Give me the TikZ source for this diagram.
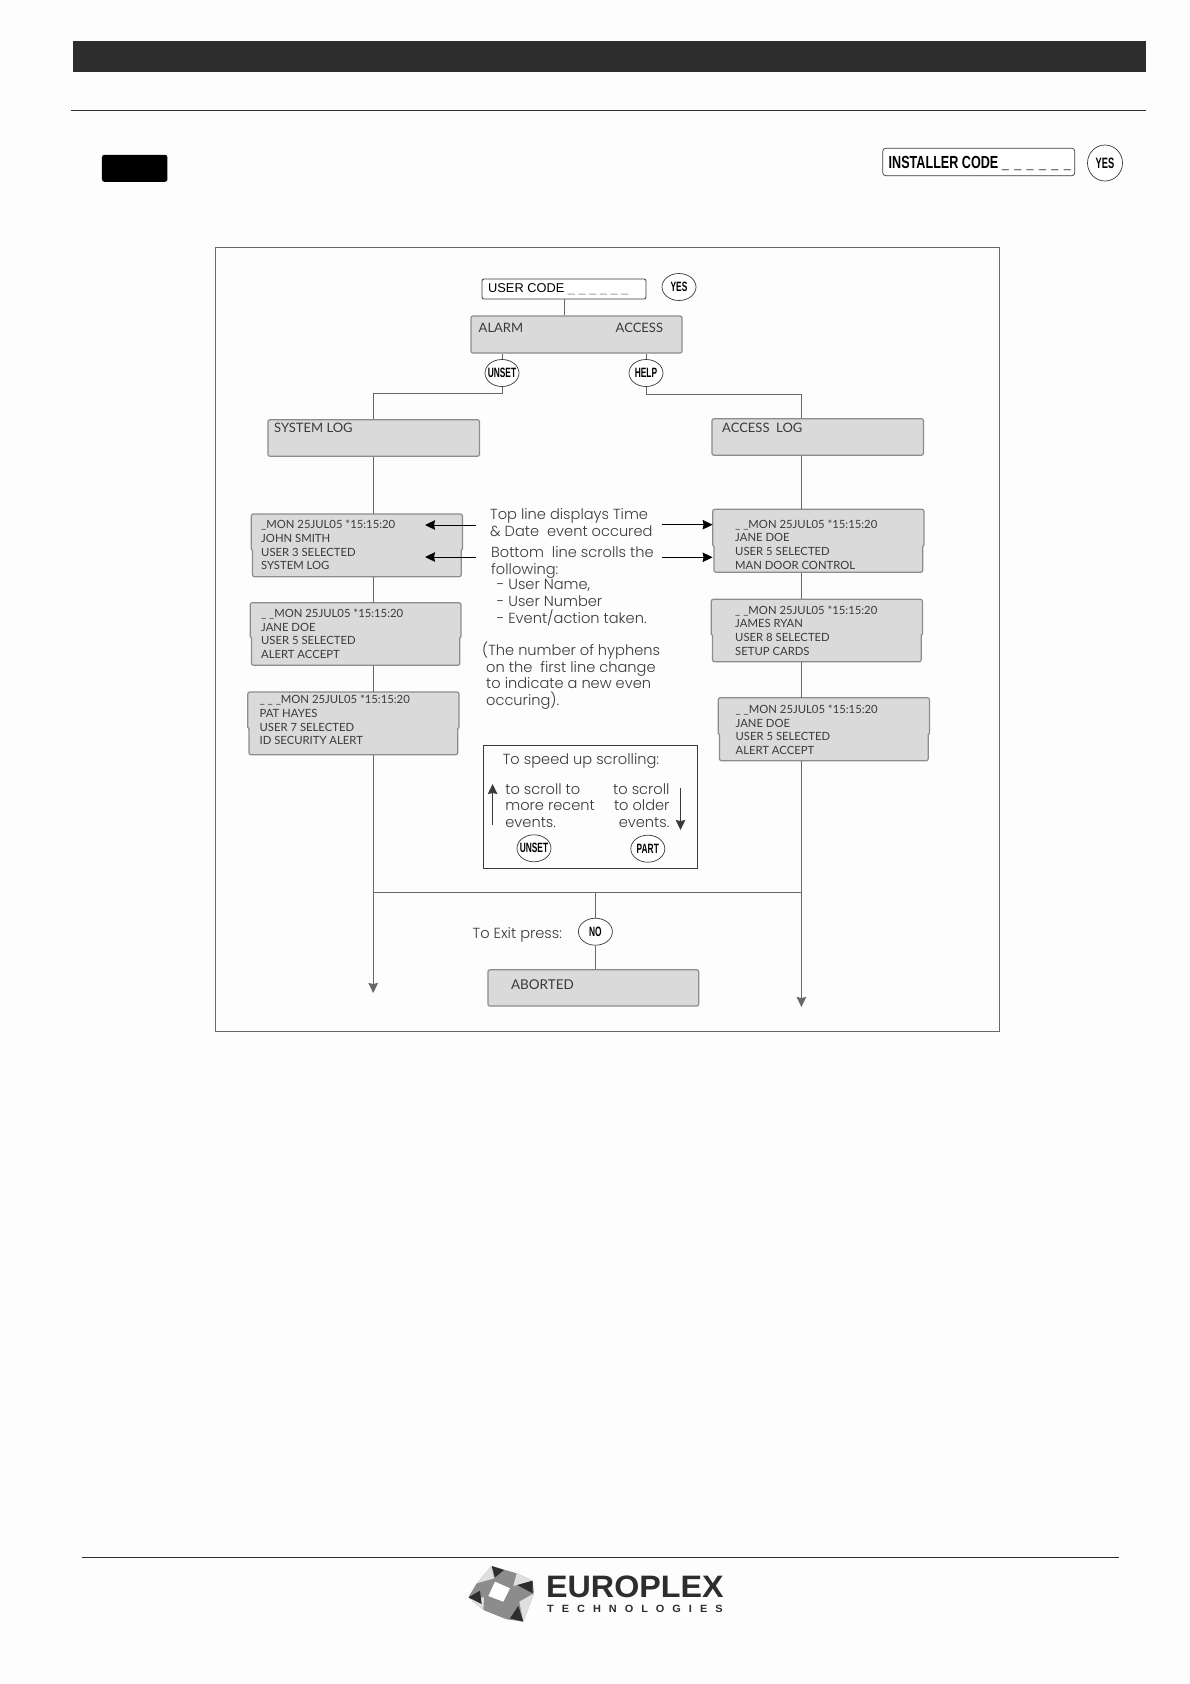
\documentclass[tikz,border=0pt]{standalone}
\usepackage{fontspec}
\setmainfont{Liberation Sans}
\newfontfamily\lcdfont{Lato}
\newfontfamily\notefont{Poppins}[UprightFont=* Light]
\newfontfamily\keyfont[FakeStretch=0.62]{Liberation Sans}
\newfontfamily\codefont[FakeStretch=0.72]{Liberation Sans}
\newfontfamily\logofont[FakeStretch=1.04]{Liberation Sans}
\usetikzlibrary{shapes.geometric,arrows.meta,calc}
\definecolor{pagebg}{HTML}{FDFDFD}
\definecolor{barcol}{HTML}{2D2D2D}
\definecolor{panelcol}{HTML}{DADADA}
\definecolor{edgecol}{HTML}{8C8C8C}
\definecolor{linecol}{HTML}{686868}
\definecolor{inkcol}{HTML}{3A3A3A}
\tikzset{
  >={Stealth[length=10pt,width=9.5pt,inset=1pt]},
  wire/.style={draw=linecol,line width=1pt},
  flow/.style={wire,->},
  pointer/.style={->,black,line width=1pt},
  panel/.style={draw=edgecol,fill=panelcol,line width=1.2pt,rounded corners=2pt,inner sep=0pt},
  keypad/.style={ellipse,draw=inkcol,fill=white,line width=.7pt,inner sep=0pt,minimum width=34pt,minimum height=27pt,font=\keyfont\bfseries\fontsize{13.5}{14}\selectfont,text=black},
  lcd/.style={anchor=west,inner sep=0pt,text=inkcol,font=\lcdfont\fontsize{13}{14}\selectfont,align=left,text height=8pt,text depth=2pt},
  lcdrows/.style={anchor=north west,inner sep=0pt,text=inkcol,font=\lcdfont\fontsize{11.3}{13.7}\selectfont,align=left},
  note/.style={anchor=west,inner sep=0pt,text=inkcol,font=\notefont\fontsize{14.6}{16.6}\selectfont,align=left},
  hidden/.style={inner sep=0pt,minimum size=0pt}
}
% stepped display: name, x1, x2, top, step, bottom, text x, text y, four rows
\newcommand{\logpanel}[9]{
  \path[panel] (#2,#4) -- (#3,#4) [sharp corners] -- (#3,#5) -- ($(#3,#5)+(-1.2,1.5)$) [rounded corners=2pt] -- ($(#3,#6)+(-1.2,0)$) -- ($(#2,#6)+(1.2,0)$) [sharp corners] -- ($(#2,#5)+(1.2,1.5)$) -- (#2,#5) [rounded corners=2pt] -- cycle;
  \node[hidden,minimum width=#3pt-#2pt,minimum height=#6pt-#4pt] (#1) at ($(#2,#4)!.5!(#3,#6)$) {};
  \node[lcdrows] (#1text) at (#7,#8) {#9};
}
\newcommand{\lgap}{\hspace{8pt}}
\newcommand{\dgap}{\hspace{5.4pt}}
\begin{document}
\begin{tikzpicture}[x=1pt,y=-1pt]
\useasboundingbox (0,0) rectangle (1190,1684);
\fill[pagebg] (0,0) rectangle (1190,1684);

% page head
\node[fill=barcol,inner sep=0pt,minimum width=1073.5pt,minimum height=31pt] (headbar) at (609.3,56.5) {};
\coordinate (headruleL) at (71,110.3);
\coordinate (headruleR) at (1146,110.3);
\draw[barcol,line width=1.2pt] (headruleL) -- (headruleR);
\node[fill=black,rounded corners=2.5pt,inner sep=0pt,minimum width=65.5pt,minimum height=27pt] (blackkey) at (134.7,168.3) {};
\node[draw=inkcol,fill=white,rounded corners=3pt,line width=.7pt,inner sep=0pt,minimum width=192pt,minimum height=27.5pt] (installer) at (978.8,162) {};
\node[anchor=west,inner sep=0pt,font=\codefont\bfseries\fontsize{17.5}{18}\selectfont] (installertext) at (888.5,163.5) {INSTALLER CODE \_\dgap\_\dgap\_\dgap\_\dgap\_\dgap\_};
\node[keypad,minimum width=35pt,minimum height=36pt,font=\keyfont\bfseries\fontsize{15}{16}\selectfont] (yeshead) at (1105,163) {YES};

% frame
\node[draw=linecol,fill=pagebg,line width=1pt,inner sep=0pt,minimum width=784pt,minimum height=784pt,anchor=north west] (frame) at (215,247) {};

% top of the chart
\node[draw=inkcol,fill=white,rounded corners=2pt,line width=.8pt,inner sep=0pt,minimum width=164pt,minimum height=20pt] (usercode) at (564,289) {};
\node[anchor=west,inner sep=0pt,font=\fontsize{12.8}{14}\selectfont,text=black] (usercodetext) at (488,289.5) {USER CODE \textcolor{edgecol}{\_ \_ \_ \_ \_ \_}};
\node[keypad] (yeskey) at (679,287) {YES};
\node[panel,minimum width=211pt,minimum height=37pt] (alarm) at (576.5,334.5) {};
\node[lcd] (alarmtext) at (478.5,329) {ALARM};
\node[lcd] (accesstext) at (615.5,329) {ACCESS};
\node[keypad] (unsetkey) at (502,373) {\makebox[0pt]{UNSET}};
\node[keypad] (helpkey) at (646,373) {HELP};
\node[panel,minimum width=211.5pt,minimum height=36.5pt] (syslog) at (373.7,438) {};
\node[lcd] (syslogtext) at (274,429) {SYSTEM LOG};
\node[panel,minimum width=211.5pt,minimum height=36.5pt] (acclog) at (817.7,437) {};
\node[lcd] (acclogtext) at (722,429) {ACCESS\ \ LOG};

% trunks
\coordinate (ltrunk) at (373.2,393.7);
\coordinate (rtrunk) at (801.4,394.3);
\coordinate (mergeL) at (373.2,892.7);
\coordinate (mergeR) at (801.4,892.7);
\coordinate (lend) at (373.2,993);
\coordinate (rend) at (801.4,1007);

% displays
\logpanel{slogA}{251.3}{462.4}{514}{549}{576.7}{261}{519.9}{\_MON 25JUL05 *15:15:20\\JOHN SMITH\\USER 3 SELECTED\\SYSTEM LOG}
\logpanel{slogB}{250.3}{460.9}{602.7}{636.7}{665.3}{260.9}{608.6}{\_ \_MON 25JUL05 *15:15:20\\JANE DOE\\USER 5 SELECTED\\ALERT ACCEPT}
\logpanel{slogC}{247.8}{458.9}{692}{727.3}{754.7}{259.4}{695.1}{\_ \_ \_MON 25JUL05 *15:15:20\\PAT HAYES\\USER 7 SELECTED\\ID SECURITY ALERT}
\logpanel{alogA}{712.8}{923.9}{509.3}{545}{572.3}{735}{519.5}{\_ \_MON 25JUL05 *15:15:20\\JANE DOE\\USER 5 SELECTED\\MAN DOOR CONTROL}
\logpanel{alogB}{711.3}{922.4}{599.3}{634}{661.7}{735}{605.3}{\_ \_MON 25JUL05 *15:15:20\\JAMES RYAN\\USER 8 SELECTED\\SETUP CARDS}
\logpanel{alogC}{718.3}{929.4}{697.7}{733.3}{760.7}{735.4}{704.6}{\_ \_MON 25JUL05 *15:15:20\\JANE DOE\\USER 5 SELECTED\\ALERT ACCEPT}

\draw[wire] (usercode.south) -- (usercode.south |- alarm.north);
\draw[wire] (unsetkey.north |- alarm.south) -- (unsetkey.north);
\draw[wire] (helpkey.north |- alarm.south) -- (helpkey.north);
\draw[wire] (unsetkey.south) |- (ltrunk) -- (ltrunk |- syslog.north);
\draw[wire] (helpkey.south) |- (rtrunk) -- (rtrunk |- acclog.north);
\draw[wire] (ltrunk |- syslog.south) -- (ltrunk |- slogA.north);
\draw[wire] (ltrunk |- slogA.south) -- (ltrunk |- slogB.north);
\draw[wire] (ltrunk |- slogB.south) -- (ltrunk |- slogC.north);
\draw[flow] (ltrunk |- slogC.south) -- (lend);
\draw[wire] (rtrunk |- acclog.south) -- (rtrunk |- alogA.north);
\draw[wire] (rtrunk |- alogA.south) -- (rtrunk |- alogB.north);
\draw[wire] (rtrunk |- alogB.south) -- (rtrunk |- alogC.north);
\draw[flow] (rtrunk |- alogC.south) -- (rend);
\draw[wire] (mergeL) -- (mergeR);

% exit
\node[keypad] (nokey) at (595.4,931.7) {NO};
\node[panel,minimum width=210.7pt,minimum height=36.3pt] (aborted) at (593.3,987.9) {};
\node[lcd,font=\lcdfont\fontsize{13.5}{14}\selectfont] (abortedtext) at (510.8,986.3) {ABORTED};
\node[note] (exitnote) at (472.5,935) {To Exit press:};
\draw[wire] (nokey.north |- mergeL) -- (nokey.north);
\draw[wire] (nokey.south) -- (nokey.south |- aborted.north);

% notes
\node[note] (topnote) at (490,522.5) {Top line displays Time\\\& Date\ \ event occured};
\node[note] (bottomnote) at (491,562.6) {Bottom\ \ line scrolls the\\following:};
\node[note] (listnote) at (496.6,602.7) {- User Name,\\- User Number\\- Event/action taken.};
\node[note] (hyphennote) at (482,675.5) {(The number of hyphens\\\ on the\ \ first line change\\\ to indicate a new even\\\ occuring).};
\coordinate (arrTL) at (476,525);
\coordinate (arrBL) at (476,557);
\coordinate (tipTL) at (425,525);
\coordinate (tipBL) at (425,557);
\coordinate (arrTR) at (662.4,524.7);
\coordinate (arrBR) at (662.4,557.3);
\draw[pointer] (arrTL) -- (tipTL);
\draw[pointer] (arrBL) -- (tipBL);
\draw[pointer] (arrTR) -- (arrTR -| alogA.west);
\draw[pointer] (arrBR) -- (arrBR -| alogA.west);

% speed up box
\node[draw=inkcol,fill=pagebg,line width=1pt,inner sep=0pt,minimum width=214pt,minimum height=123.7pt] (speedbox) at (590.6,806.9) {};
\node[note] (speedtext) at (502.7,761.3) {To speed up scrolling:};
\node[note] (recenttext) at (505.2,805.6) {to scroll to\\more recent\\events.};
\node[note,align=right] (oldertext) at (613,805.6) {to scroll\ \\to older\ \\events.};
\coordinate (upA) at (492.6,825);
\coordinate (upB) at (492.6,784);
\coordinate (downA) at (680.5,788);
\coordinate (downB) at (680.5,830);
\draw[flow,inkcol] (upA) -- (upB);
\draw[flow,inkcol] (downA) -- (downB);
\node[keypad] (unsetspeed) at (534,848.3) {\makebox[0pt]{UNSET}};
\node[keypad] (partspeed) at (647.8,848.7) {PART};

% page foot
\coordinate (footL) at (81.6,1557.3);
\coordinate (footR) at (1119,1557.3);
\draw[barcol,line width=1.2pt] (footL) -- (footR);
\begin{scope}[shift={(460,1560)},x=.3333pt,y=-.3333pt]
  \fill[gray!90,rounded corners=1.5pt] (95,18) -- (170,40) -- (218,62) -- (222,100) -- (190,185) -- (140,178) -- (70,150) -- (25,112) -- (50,70) -- cycle;
  \fill[gray!25] (50,70) -- (95,18) -- (102,55) -- cycle;
  \fill[gray!25] (222,100) -- (190,185) -- (178,125) -- cycle;
  \fill[gray!25] (25,112) -- (70,150) -- (72,112) -- cycle;
  \fill[gray!25] (170,40) -- (218,62) -- (160,78) -- cycle;
  \fill[white] (105,65) -- (150,85) -- (130,125) -- (85,108) -- cycle;
  \fill[barcol] (95,18) -- (132,30) -- (105,52) -- cycle;
  \fill[barcol] (218,62) -- (218,100) -- (172,75) -- cycle;
  \fill[barcol] (190,185) -- (150,175) -- (175,138) -- cycle;
  \fill[barcol] (25,112) -- (60,92) -- (65,132) -- cycle;
\end{scope}
\node[anchor=west,inner sep=0pt,text=barcol,font=\logofont\bfseries\fontsize{31}{32}\selectfont] (logotext) at (546,1587) {EUROPLEX};
\node[anchor=west,inner sep=0pt,text=barcol,font=\logofont\bfseries\fontsize{10.5}{12}\selectfont] (logosub) at (547,1609) {T\lgap E\lgap C\lgap H\lgap N\lgap O\lgap L\lgap O\lgap G\lgap I\lgap E\lgap S};
\end{tikzpicture}
\end{document}
